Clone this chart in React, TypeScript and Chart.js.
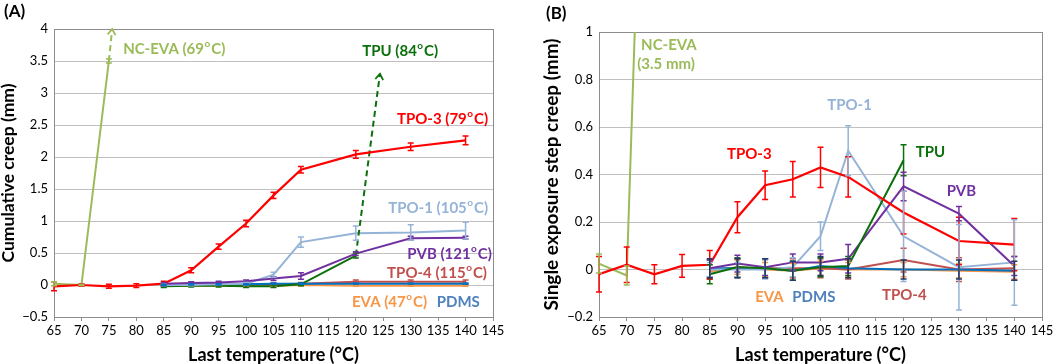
import React, { useEffect, useRef } from "react";
import { Chart, registerables } from "chart.js";
Chart.register(...registerables);

const FONT = "Lato, 'Open Sans', sans-serif";

// ---------- shared categories ----------
const TEMPS = [65, 70, 75, 80, 85, 90, 95, 100, 105, 110, 120, 130, 140];

// ---------- Panel A: cumulative creep (mm) ----------
const A_TPO3 = [-0.02, 0, -0.02, -0.01, 0.02, 0.23, 0.6, 0.96, 1.4, 1.8, 2.04, 2.16, 2.26];
const A_TPO3_ERR = [0.07, 0.02, 0.03, 0.03, 0.04, 0.04, 0.04, 0.05, 0.05, 0.05, 0.06, 0.06, 0.07];
const A_NCEVA = [0.02, 0, 3.5, null, null, null, null, null, null, null, null, null, null];
const A_NCEVA_ERR = [0.03, 0.01, 0.03, 0, 0, 0, 0, 0, 0, 0, 0, 0, 0];
const A_NCEVA_ARROW_X = [75, 75.6];
const A_NCEVA_ARROW_Y = [3.5, 4.0];
const A_TPU = [null, null, null, null, -0.02, -0.01, -0.01, -0.02, -0.02, 0.01, 0.46, null, null];
const A_TPU_ERR = [0, 0, 0, 0, 0.02, 0.02, 0.02, 0.02, 0.02, 0.02, 0.04, 0, 0];
const A_TPU_ARROW_X = [120, 124.4];
const A_TPU_ARROW_Y = [0.46, 3.3];
const A_TPO1 = [null, null, null, null, 0, 0, 0.01, 0.02, 0.16, 0.67, 0.81, 0.82, 0.85];
const A_TPO1_ERR = [0, 0, 0, 0, 0.01, 0.01, 0.01, 0.02, 0.04, 0.08, 0.11, 0.12, 0.13];
const A_PVB = [null, null, null, null, 0.02, 0.03, 0.04, 0.06, 0.1, 0.14, 0.49, 0.73, 0.74];
const A_PVB_ERR = [0, 0, 0, 0, 0.02, 0.02, 0.02, 0.02, 0.03, 0.05, 0.03, 0.03, 0.02];
const A_TPO4 = [null, null, null, null, 0, 0, 0, 0.01, 0.01, 0.02, 0.05, 0.05, 0.05];
const A_TPO4_ERR = [0, 0, 0, 0, 0.02, 0.02, 0.02, 0.02, 0.02, 0.02, 0.03, 0.03, 0.03];
const A_EVA = [null, null, null, null, -0.01, -0.01, -0.01, -0.01, -0.01, 0, -0.01, -0.01, -0.01];
const A_EVA_ERR = [0, 0, 0, 0, 0.01, 0.01, 0.01, 0.01, 0.01, 0.01, 0.01, 0.01, 0.01];
const A_PDMS = [null, null, null, null, 0, 0.01, 0.01, 0.01, 0.02, 0.02, 0.02, 0.02, 0.02];
const A_PDMS_ERR = [0, 0, 0, 0, 0.01, 0.01, 0.01, 0.01, 0.01, 0.01, 0.01, 0.01, 0.01];

// ---------- Panel B: single exposure step creep (mm) ----------
const B_TPO3 = [-0.02, 0.02, -0.02, 0.015, 0.02, 0.22, 0.355, 0.38, 0.43, 0.39, 0.24, 0.12, 0.105];
const B_TPO3_ERR = [0.075, 0.075, 0.04, 0.048, 0.06, 0.065, 0.06, 0.075, 0.085, 0.085, 0.09, 0.1, 0.11];
const B_NCEVA = [0.025, -0.025, 3.5, null, null, null, null, null, null, null, null, null, null];
const B_NCEVA_ERR = [0.04, 0.04, 0, 0, 0, 0, 0, 0, 0, 0, 0, 0, 0];
const B_TPO1 = [null, null, null, null, 0, 0, 0, 0.01, 0.14, 0.5, 0.14, 0.01, 0.03];
const B_TPO1_ERR = [0, 0, 0, 0, 0.03, 0.03, 0.04, 0.04, 0.06, 0.105, 0.19, 0.18, 0.18];
const B_TPU = [null, null, null, null, -0.02, 0.01, 0.005, -0.005, 0.01, 0.015, 0.46, null, null];
const B_TPU_ERR = [0, 0, 0, 0, 0.04, 0.04, 0.04, 0.04, 0.04, 0.04, 0.065, 0, 0];
const B_PVB = [null, null, null, null, 0.005, 0.025, 0.01, 0.03, 0.03, 0.045, 0.35, 0.235, 0.015];
const B_PVB_ERR = [0, 0, 0, 0, 0.035, 0.035, 0.035, 0.035, 0.035, 0.06, 0.06, 0.03, 0.04];
const B_TPO4 = [null, null, null, null, 0, 0.005, 0.005, 0.005, 0.005, 0, 0.04, 0, 0.005];
const B_TPO4_ERR = [0, 0, 0, 0, 0.04, 0.04, 0.04, 0.04, 0.04, 0.04, 0.05, 0.05, 0.05];
const B_EVA = [null, null, null, null, -0.01, 0.01, 0, -0.005, 0.005, 0, 0, -0.005, -0.01];
const B_EVA_ERR = [0, 0, 0, 0, 0.03, 0.03, 0.03, 0.03, 0.03, 0.03, 0.03, 0.03, 0.03];
const B_PDMS = [null, null, null, null, 0.005, 0.005, 0.005, -0.005, 0.015, 0.005, 0, 0, -0.005];
const B_PDMS_ERR = [0, 0, 0, 0, 0.04, 0.04, 0.04, 0.04, 0.04, 0.04, 0.04, 0.04, 0.04];

// ---------- colours ----------
const C_TPO3 = "#FF0000";
const C_NCEVA = "#9BBB59";
const C_TPU = "#0B700B";
const C_TPO1 = "#95B3D7";
const C_PVB = "#7030A0";
const C_TPO4 = "#C0504D";
const C_EVA = "#F79646";
const C_PDMS = "#0070C0";
const C_PDMS_TEXT = "#4F81BD";
const C_PDMS_ERR = "#1F3864";

// ---------- annotation labels (data coordinates; "^o" = superscript o) ----------
const A_LABEL_TEXT = ["NC-EVA (69^oC)", "TPU (84^oC)", "TPO-3 (79^oC)", "TPO-1 (105^oC)", "PVB (121^oC)", "TPO-4 (115^oC)", "EVA (47^oC)", "PDMS"];
const A_LABEL_X = [77.6, 135.0, 144.1, 144.1, 144.8, 143.9, 119.3, 142.6];
const A_LABEL_Y = [3.69, 3.66, 2.59, 1.2, 0.48, 0.19, -0.27, -0.27];
const A_LABEL_ALIGN = ["left", "right", "right", "right", "right", "right", "left", "right"];
const A_LABEL_COLOR = [C_NCEVA, C_TPU, C_TPO3, C_TPO1, C_PVB, C_TPO4, C_EVA, C_PDMS_TEXT];

const B_LABEL_TEXT = ["NC-EVA", "(3.5 mm)", "TPO-1", "TPO-3", "TPU", "PVB", "EVA", "PDMS", "TPO-4"];
const B_LABEL_X = [72.6, 71.9, 106.2, 88.1, 122.2, 127.8, 93.2, 99.9, 116.1];
const B_LABEL_Y = [0.945, 0.865, 0.69, 0.486, 0.495, 0.33, -0.116, -0.116, -0.107];
const B_LABEL_ALIGN = ["left", "left", "left", "left", "left", "left", "left", "left", "left"];
const B_LABEL_COLOR = [C_NCEVA, C_NCEVA, C_TPO1, C_TPO3, C_TPU, C_PVB, C_EVA, C_PDMS_TEXT, C_TPO4];

function series(vals: (number | null)[], errs: number[] | null, color: string, extra: any = {}) {
  return {
    data: TEMPS.map((t, i) => ({ x: t, y: vals[i] })),
    errors: errs,
    borderColor: color,
    backgroundColor: color,
    borderWidth: 2,
    pointRadius: 0,
    tension: 0,
    errZ: 0,
    ...extra,
  };
}

function arrowSeries(xs: number[], ys: number[], color: string) {
  return {
    data: xs.map((x, i) => ({ x, y: ys[i] })),
    borderColor: color,
    backgroundColor: color,
    borderWidth: 2,
    borderDash: [6, 4],
    pointRadius: 0,
    tension: 0,
    arrow: true,
  };
}

const errorBarPlugin = {
  id: "errorBars",
  afterDatasetsDraw(chart: any) {
    const { ctx, chartArea, scales } = chart;
    const x = scales.x, y = scales.y;
    ctx.save();
    ctx.beginPath();
    ctx.rect(chartArea.left - 4, chartArea.top, chartArea.right - chartArea.left + 8, chartArea.bottom - chartArea.top);
    ctx.clip();
    const dss = chart.data.datasets.filter((d: any) => d.errors).slice().sort((a: any, b: any) => a.errZ - b.errZ);
    for (const ds of dss) {
      ctx.strokeStyle = ds.errorColor || ds.borderColor;
      ctx.lineWidth = 1.5;
      ctx.setLineDash([]);
      ds.data.forEach((p: any, j: number) => {
        const e = ds.errors[j];
        if (p.y == null || !e) return;
        const px = x.getPixelForValue(p.x);
        const y1 = y.getPixelForValue(p.y - e);
        const y2 = y.getPixelForValue(p.y + e);
        ctx.beginPath();
        ctx.moveTo(px, y1); ctx.lineTo(px, y2);
        ctx.moveTo(px - 3, y1); ctx.lineTo(px + 3, y1);
        ctx.moveTo(px - 3, y2); ctx.lineTo(px + 3, y2);
        ctx.stroke();
      });
    }
    ctx.restore();
  },
};

const arrowPlugin = {
  id: "arrows",
  afterDatasetsDraw(chart: any) {
    const { ctx } = chart;
    chart.data.datasets.forEach((ds: any, i: number) => {
      if (!ds.arrow) return;
      const pts = chart.getDatasetMeta(i).data;
      const a = pts[pts.length - 2], b = pts[pts.length - 1];
      const ang = Math.atan2(b.y - a.y, b.x - a.x);
      const L = 7;
      ctx.save();
      ctx.strokeStyle = ds.borderColor;
      ctx.lineWidth = 1.8;
      ctx.beginPath();
      ctx.moveTo(b.x - L * Math.cos(ang - 0.6), b.y - L * Math.sin(ang - 0.6));
      ctx.lineTo(b.x, b.y);
      ctx.lineTo(b.x - L * Math.cos(ang + 0.6), b.y - L * Math.sin(ang + 0.6));
      ctx.stroke();
      ctx.restore();
    });
  },
};

const MAIN_FONT = `bold 15px ${FONT}`;
const SUP_FONT = `bold 10px ${FONT}`;

function labelWidth(ctx: CanvasRenderingContext2D, t: string) {
  const parts = t.split("^o");
  let w = 0;
  parts.forEach((part, k) => {
    ctx.font = MAIN_FONT;
    w += ctx.measureText(part).width;
    if (k < parts.length - 1) {
      ctx.font = SUP_FONT;
      w += ctx.measureText("o").width + 1.5;
    }
  });
  return w;
}

const frameAndLabelsPlugin = {
  id: "frameLabels",
  beforeDatasetsDraw(chart: any) {
    const { ctx, chartArea } = chart;
    ctx.save();
    ctx.strokeStyle = "#8C8C8C";
    ctx.lineWidth = 1;
    ctx.strokeRect(chartArea.left + 0.5, chartArea.top + 0.5, chartArea.right - chartArea.left, chartArea.bottom - chartArea.top);
    ctx.restore();
  },
  afterDraw(chart: any, _args: any, opts: any) {
    const { ctx, scales } = chart;
    ctx.save();
    ctx.textBaseline = "middle";
    ctx.textAlign = "left";
    // panel letter
    ctx.fillStyle = "#000";
    ctx.font = `bold 17px ${FONT}`;
    ctx.fillText(opts.panel, opts.panelX, opts.panelY);
    // annotations
    opts.texts.forEach((t: string, i: number) => {
      let px = scales.x.getPixelForValue(opts.xs[i]);
      const py = scales.y.getPixelForValue(opts.ys[i]);
      if (opts.aligns[i] === "right") px -= labelWidth(ctx, t);
      ctx.fillStyle = opts.colors[i];
      const parts = t.split("^o");
      parts.forEach((part: string, k: number) => {
        ctx.font = MAIN_FONT;
        ctx.fillText(part, px, py);
        px += ctx.measureText(part).width;
        if (k < parts.length - 1) {
          ctx.font = SUP_FONT;
          ctx.fillText("o", px + 0.5, py - 5);
          px += ctx.measureText("o").width + 1.5;
        }
      });
    });
    ctx.restore();
  },
};

function fmt(v: number) {
  const s = String(Math.round(v * 100) / 100);
  return s.startsWith("-") ? "\u2212" + s.slice(1) : s;
}

function makeConfig(datasets: any[], p: any) {
  return {
    type: "line",
    data: { datasets },
    plugins: [frameAndLabelsPlugin, errorBarPlugin, arrowPlugin],
    options: {
      animation: false,
      responsive: false,
      devicePixelRatio: 1,
      layout: { padding: { left: 0, top: p.top, right: p.right, bottom: 0 } },
      plugins: {
        legend: { display: false },
        tooltip: { enabled: false },
        frameLabels: {
          panel: p.panel, panelX: p.panelX, panelY: p.panelY,
          texts: p.texts, xs: p.xs, ys: p.ys, colors: p.colors, aligns: p.aligns,
        },
      },
      scales: {
        x: {
          type: "linear",
          min: 65, max: 145,
          ticks: { stepSize: 5, color: "#000", font: { family: FONT, size: 13 }, padding: 2, maxRotation: 0, autoSkip: false },
          grid: { display: true, drawOnChartArea: false, drawTicks: true, tickLength: 4, color: "#8C8C8C" },
          border: { display: false },
          title: { display: true, text: "Last temperature (°C)", color: "#000", font: { family: FONT, size: 18, weight: "bold", lineHeight: 1 }, padding: { top: 0, bottom: 0 } },
          afterFit: (s: any) => { s.height = 47; },
        },
        y: {
          min: p.ymin, max: p.ymax,
          ticks: { stepSize: p.ystep, color: "#000", font: { family: FONT, size: 13 }, padding: 6, callback: (v: number) => fmt(v) },
          grid: { color: "#C0C0C0", lineWidth: 1, drawTicks: false },
          border: { display: false },
          title: { display: true, text: p.ytitle, color: "#000", font: { family: FONT, size: p.ytitleSize, weight: "bold", lineHeight: 1 }, padding: { top: p.ytitlePad, bottom: 0 } },
          afterFit: (s: any) => { s.width = p.yw; },
        },
      },
    },
  };
}

function Panel({ width, cfg }: { width: number; cfg: () => any }) {
  const ref = useRef<HTMLCanvasElement>(null);
  useEffect(() => {
    const chart = new Chart(ref.current as HTMLCanvasElement, cfg());
    return () => chart.destroy();
  }, []);
  return <canvas ref={ref} width={width} height={364} style={{ display: "block", width, height: 364 }} />;
}

function configA() {
  const ds = [
    series(A_TPO3, A_TPO3_ERR, C_TPO3, { borderWidth: 2.2, errZ: 2 }),
    series(A_NCEVA, A_NCEVA_ERR, C_NCEVA, { errZ: 6 }),
    arrowSeries(A_NCEVA_ARROW_X, A_NCEVA_ARROW_Y, C_NCEVA),
    arrowSeries(A_TPU_ARROW_X, A_TPU_ARROW_Y, C_TPU),
    series(A_PVB, A_PVB_ERR, C_PVB, { errZ: 4 }),
    series(A_TPO1, A_TPO1_ERR, C_TPO1, { errZ: 5 }),
    series(A_TPU, A_TPU_ERR, C_TPU, { errZ: 3 }),
    series(A_PDMS, A_PDMS_ERR, C_PDMS, { errZ: 7 }),
    series(A_TPO4, A_TPO4_ERR, C_TPO4, { errZ: 1 }),
    series(A_EVA, A_EVA_ERR, C_EVA, { errZ: 0 }),
  ];
  return makeConfig(ds, {
    top: 29, right: 37, yw: 54, ymin: -0.5, ymax: 4, ystep: 0.5,
    ytitle: "Cumulative creep (mm)", ytitlePad: 0, ytitleSize: 17.5,
    panel: "(A)", panelX: 4, panelY: 12,
    texts: A_LABEL_TEXT, xs: A_LABEL_X, ys: A_LABEL_Y, colors: A_LABEL_COLOR, aligns: A_LABEL_ALIGN,
  });
}

function configB() {
  const ds = [
    series(B_TPO3, B_TPO3_ERR, C_TPO3, { borderWidth: 2.2, errZ: 2 }),
    series(B_NCEVA, B_NCEVA_ERR, C_NCEVA, { errZ: 6 }),
    series(B_TPU, B_TPU_ERR, C_TPU, { errZ: 3 }),
    series(B_PVB, B_PVB_ERR, C_PVB, { errZ: 4 }),
    series(B_TPO1, B_TPO1_ERR, C_TPO1, { errZ: 5 }),
    series(B_PDMS, B_PDMS_ERR, C_PDMS, { errorColor: C_PDMS_ERR, errZ: 7 }),
    series(B_TPO4, B_TPO4_ERR, C_TPO4, { errZ: 1 }),
    series(B_EVA, B_EVA_ERR, C_EVA, { errZ: 0 }),
  ];
  return makeConfig(ds, {
    top: 32, right: 22, yw: 69, ymin: -0.2, ymax: 1, ystep: 0.2,
    ytitle: "Single exposure step creep (mm)", ytitlePad: 12, ytitleSize: 19,
    panel: "(B)", panelX: 16, panelY: 14,
    texts: B_LABEL_TEXT, xs: B_LABEL_X, ys: B_LABEL_Y, colors: B_LABEL_COLOR, aligns: B_LABEL_ALIGN,
  });
}

export default function App() {
  return (
    <div style={{ position: "absolute", left: 0, top: 0, width: 1064, height: 364, display: "flex", background: "#fff" }}>
      <Panel width={530} cfg={configA} />
      <Panel width={534} cfg={configB} />
    </div>
  );
}
